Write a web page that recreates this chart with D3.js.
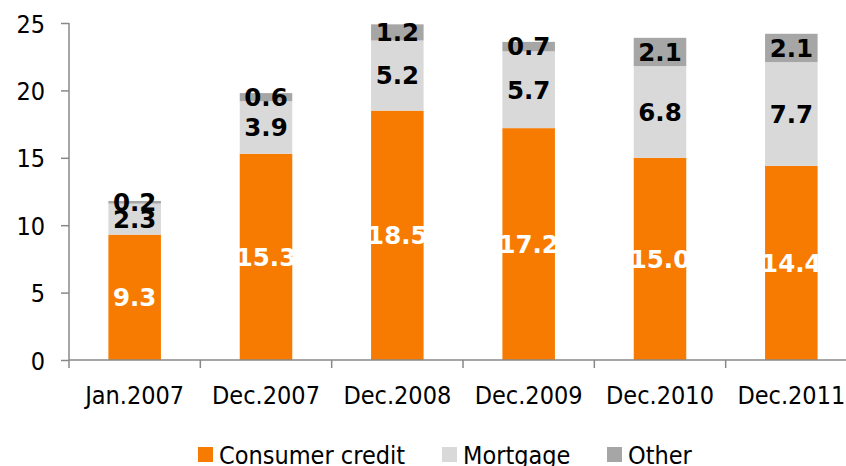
<!DOCTYPE html>
<html><head><meta charset="utf-8">
<script src="https://cdn.jsdelivr.net/npm/d3@7"></script>
<style>
html,body{margin:0;padding:0;background:#fff;}
svg{display:block;font-family:"DejaVu Sans Condensed","DejaVu Sans",sans-serif;}
</style></head>
<body>
<svg id="chart" width="846" height="466"></svg>
<script>
const categories = ["Jan.2007","Dec.2007","Dec.2008","Dec.2009","Dec.2010","Dec.2011"];
const consumerCredit = [9.3, 15.3, 18.5, 17.2, 15.0, 14.4];
const mortgage = [2.3, 3.9, 5.2, 5.7, 6.8, 7.7];
const other = [0.2, 0.6, 1.2, 0.7, 2.1, 2.1];
const seriesNames = ["Consumer credit","Mortgage","Other"];
const yTicks = [0,5,10,15,20,25];

const colors = ["#F77B00","#D9D9D9","#A6A6A6"];
const labelColors = ["#ffffff","#000000","#000000"];

const svg = d3.select("#chart");
const x0 = 69, x1 = 857, yTop = 23, yBot = 360;

const x = d3.scaleBand().domain(categories).range([x0, x1]).paddingInner(0.6).paddingOuter(0.3);
const xb = d3.scaleBand().domain(categories).range([x0, x1]);
const y = d3.scaleLinear().domain([0,25]).range([yBot, yTop]);

const rows = categories.map((c,i)=>({cat:c, "Consumer credit":consumerCredit[i], "Mortgage":mortgage[i], "Other":other[i]}));
const stack = d3.stack().keys(seriesNames)(rows);

// bars
stack.forEach((s,si)=>{
  svg.append("g").selectAll("rect").data(s).join("rect")
    .attr("x", d=>x(d.data.cat))
    .attr("width", x.bandwidth())
    .attr("y", d=>y(d[1]))
    .attr("height", d=>y(d[0])-y(d[1]))
    .attr("fill", colors[si]);
});

// labels
stack.forEach((s,si)=>{
  svg.append("g").selectAll("text").data(s).join("text")
    .attr("x", d=>x(d.data.cat)+x.bandwidth()/2)
    .attr("y", d=>y((d[0]+d[1])/2))
    .attr("dy","0.36em")
    .attr("text-anchor","middle")
    .attr("font-family","DejaVu Sans, sans-serif")
    .attr("font-weight","bold")
    .attr("font-size", 24.5)
    .attr("fill", labelColors[si])
    .text(d=>(d[1]-d[0]).toFixed(1));
});

// y axis
const yAxis = svg.append("g").attr("transform",`translate(${x0},0)`)
  .call(d3.axisLeft(y).tickValues(yTicks).tickSize(8).tickPadding(16).tickFormat(d3.format("d")));
yAxis.select(".domain").attr("stroke","#888").attr("stroke-width",1.5).attr("d",`M-0,${yTop}V${yBot}`);
yAxis.selectAll(".tick line").attr("stroke","#888").attr("stroke-width",1.5);
yAxis.selectAll(".tick text").attr("font-size",25).attr("fill","#000").attr("font-family","DejaVu Sans Condensed, DejaVu Sans").attr("dy","0.36em");

// x axis
const xAxisG = svg.append("g").attr("transform",`translate(0,${yBot})`);
xAxisG.append("line").attr("x1",x0).attr("x2",x1).attr("y1",0).attr("y2",0).attr("stroke","#888").attr("stroke-width",1.5);
const bounds = categories.map(c=>xb(c));
xAxisG.selectAll("line.tk").data(bounds).join("line").attr("class","tk")
  .attr("x1",d=>d).attr("x2",d=>d).attr("y1",0).attr("y2",8).attr("stroke","#888").attr("stroke-width",1.5);
xAxisG.selectAll("text").data(categories).join("text")
  .attr("x",d=>xb(d)+xb.bandwidth()/2)
  .attr("y",44)
  .attr("text-anchor","middle")
  .attr("font-size",25)
  .attr("fill","#000")
  .text(d=>d);

// legend
const legendX = [198, 442, 607];
const lg = svg.append("g");
seriesNames.forEach((n,i)=>{
  lg.append("rect").attr("x",legendX[i]).attr("y",447).attr("width",15).attr("height",15).attr("fill",colors[i]);
  lg.append("text").attr("x",legendX[i]+21).attr("y",464).attr("font-size",25).attr("fill","#000").text(n);
});
</script>
</body></html>
